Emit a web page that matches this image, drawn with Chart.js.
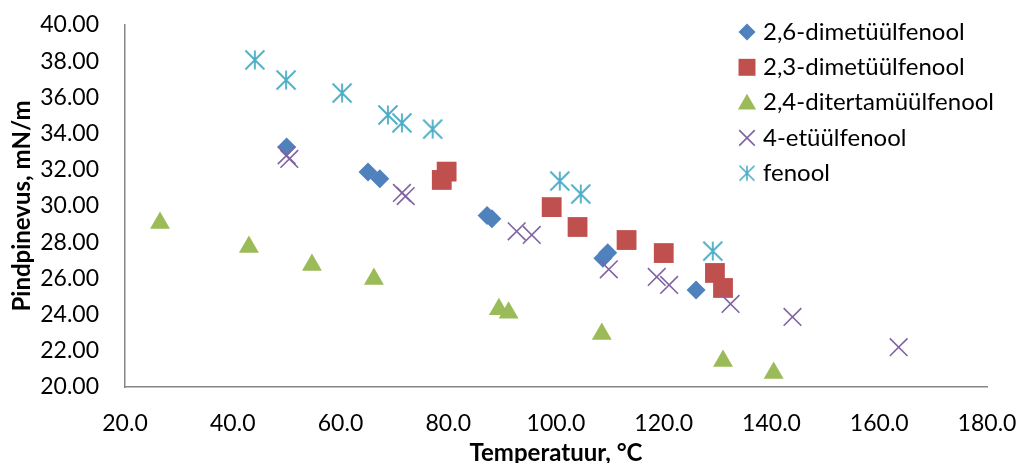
<!DOCTYPE html>
<html>
<head>
<meta charset="utf-8">
<script src="https://cdn.jsdelivr.net/npm/chart.js@4.4.0/dist/chart.umd.min.js"></script>
<style>
  html, body { margin: 0; padding: 0; background: #fff; }
  canvas { display: block; }
</style>
</head>
<body>
<canvas id="myChart" width="1018" height="463"></canvas>
<script>
const seriesNames = ['2,6-dimetüülfenool', '2,3-dimetüülfenool', '2,4-ditertamüülfenool', '4-etüülfenool', 'fenool'];

// temperatuur (°C) ja pindpinevus (mN/m) iga aine kohta
const dimetyyl26T = [50.0, 65.1, 67.3, 87.2, 88.1, 108.7, 109.6, 126.0];
const dimetyyl26S = [33.26, 31.88, 31.50, 29.48, 29.30, 27.12, 27.42, 25.36];

const dimetyyl23T = [78.8, 79.7, 99.2, 104.0, 113.1, 120.0, 129.5, 131.0];
const dimetyyl23S = [31.44, 31.90, 29.94, 28.84, 28.12, 27.40, 26.30, 25.47];

const ditertamyylT = [26.5, 43.0, 54.7, 66.2, 89.4, 91.2, 108.5, 131.0, 140.4];
const ditertamyylS = [29.06, 27.73, 26.74, 25.97, 24.30, 24.10, 22.93, 21.44, 20.77];

const etyyl4T = [50.0, 50.5, 71.4, 72.1, 92.7, 95.5, 109.8, 118.7, 121.0, 132.4, 143.9, 163.6];
const etyyl4S = [32.80, 32.60, 30.72, 30.55, 28.60, 28.40, 26.50, 26.08, 25.64, 24.59, 23.87, 22.20];

const fenoolT = [44.1, 49.9, 60.3, 68.8, 71.4, 77.1, 100.7, 104.6, 129.1];
const fenoolS = [38.07, 36.96, 36.24, 35.03, 34.59, 34.25, 31.38, 30.66, 27.51];

const xTicks = [20, 40, 60, 80, 100, 120, 140, 160, 180];
const yTicks = [20, 22, 24, 26, 28, 30, 32, 34, 36, 38, 40];

const colors = ['#4F81BD', '#C0504D', '#9BBB59', '#8064A2', '#4BACC6'];

// Excel-i tärn: X + püstjoon (Chart.js 'star' on 8 haaraga)
function makeStar(size, color, lw) {
  const c = document.createElement('canvas');
  c.width = size; c.height = size;
  const g = c.getContext('2d');
  g.strokeStyle = color;
  g.lineWidth = lw;
  const m = size / 2, h = size / 2 - 1.5;
  g.beginPath();
  g.moveTo(m, m - h); g.lineTo(m, m + h);
  g.moveTo(m - h, m - h); g.lineTo(m + h, m + h);
  g.moveTo(m + h, m - h); g.lineTo(m - h, m + h);
  g.stroke();
  return c;
}
const starBig = makeStar(22, colors[4], 1.8);
const starSmall = makeStar(18, colors[4], 1.6);

const toPoints = (xs, ys) => xs.map((x, i) => ({ x: x, y: ys[i] }));

const fontFamily = 'Lato, "Open Sans", sans-serif';

// legend joonistatakse graafiku sisse paremale üles
const legendStyles = [
  { style: 'rectRot', r: 8.5 },
  { style: 'rect', r: 12 },
  { style: 'triangle', r: 10.5 },
  { style: 'crossRot', r: 11 },
  { style: 'star', r: 9 },
];

function drawMarker(ctx, kind, x, y, r, color) {
  ctx.save();
  ctx.fillStyle = color;
  ctx.strokeStyle = color;
  ctx.beginPath();
  if (kind === 'rectRot') {
    ctx.moveTo(x - r, y); ctx.lineTo(x, y - r); ctx.lineTo(x + r, y); ctx.lineTo(x, y + r);
    ctx.closePath(); ctx.fill();
  } else if (kind === 'rect') {
    const s = r * Math.SQRT1_2;
    ctx.rect(x - s, y - s, 2 * s, 2 * s); ctx.fill();
  } else if (kind === 'triangle') {
    const h = r * 1.5, w = r * 0.866;
    ctx.moveTo(x, y - h / 2 - 1); ctx.lineTo(x + w, y + h / 2 - 1); ctx.lineTo(x - w, y + h / 2 - 1);
    ctx.closePath(); ctx.fill();
  } else if (kind === 'crossRot') {
    const d = r * Math.SQRT1_2;
    ctx.lineWidth = 1.6;
    ctx.moveTo(x - d, y - d); ctx.lineTo(x + d, y + d);
    ctx.moveTo(x + d, y - d); ctx.lineTo(x - d, y + d);
    ctx.stroke();
  } else if (kind === 'star') {
    ctx.drawImage(starSmall, x - starSmall.width / 2, y - starSmall.height / 2);
  }
  ctx.restore();
}

const insideLegend = {
  id: 'insideLegend',
  afterDraw(chart) {
    const ctx = chart.ctx;
    ctx.save();
    ctx.font = '24px ' + fontFamily;
    ctx.fillStyle = '#000';
    ctx.textBaseline = 'middle';
    ctx.textAlign = 'left';
    seriesNames.forEach((name, i) => {
      const y = 32 + i * 35.3;
      drawMarker(ctx, legendStyles[i].style, 747, y, legendStyles[i].r, colors[i]);
      ctx.fillText(name, 763, y);
    });
    ctx.restore();
  }
};

const ctx = document.getElementById('myChart').getContext('2d');

new Chart(ctx, {
  type: 'scatter',
  data: {
    datasets: [
      {
        label: seriesNames[0],
        data: toPoints(dimetyyl26T, dimetyyl26S),
        pointStyle: 'rectRot',
        pointRadius: 9.5,
        backgroundColor: colors[0],
        borderColor: colors[0],
        borderWidth: 0,
        order: 5,
      },
      {
        label: seriesNames[1],
        data: toPoints(dimetyyl23T, dimetyyl23S),
        pointStyle: 'rect',
        pointRadius: 14,
        backgroundColor: colors[1],
        borderColor: colors[1],
        borderWidth: 0,
        order: 4,
      },
      {
        label: seriesNames[2],
        data: toPoints(ditertamyylT, ditertamyylS),
        pointStyle: 'triangle',
        pointRadius: 11.5,
        backgroundColor: colors[2],
        borderColor: colors[2],
        borderWidth: 0,
        order: 3,
      },
      {
        label: seriesNames[3],
        data: toPoints(etyyl4T, etyyl4S),
        pointStyle: 'crossRot',
        pointRadius: 12.5,
        backgroundColor: colors[3],
        borderColor: colors[3],
        borderWidth: 1.6,
        order: 2,
      },
      {
        label: seriesNames[4],
        data: toPoints(fenoolT, fenoolS),
        pointStyle: starBig,
        pointRadius: 11,
        backgroundColor: colors[4],
        borderColor: colors[4],
        order: 1,
      },
    ],
  },
  options: {
    responsive: false,
    maintainAspectRatio: false,
    animation: false,
    layout: { autoPadding: false, padding: { top: 25, right: 31, left: 0, bottom: 0 } },
    plugins: {
      legend: { display: false },
      title: { display: false },
      tooltip: { enabled: false },
    },
    scales: {
      x: {
        type: 'linear',
        min: 20,
        max: 180,
        afterBuildTicks: (scale) => { scale.ticks = xTicks.map(v => ({ value: v })); },
        afterFit: (scale) => {
          scale.height = 76;
          scale.paddingLeft = 0;
          scale.paddingRight = 0;
        },
        grid: { display: false, drawTicks: false },
        border: { display: true, color: '#868686', width: 1.5 },
        ticks: {
          color: '#000',
          padding: 23,
          maxRotation: 0,
          font: { family: fontFamily, size: 23 },
          callback: (v) => Number(v).toFixed(1),
        },
        title: {
          display: true,
          text: 'Temperatuur, °C',
          color: '#000',
          font: { family: fontFamily, size: 24, weight: 'bold' },
          padding: { top: 0, bottom: -5 },
        },
      },
      y: {
        type: 'linear',
        min: 20,
        max: 40,
        afterBuildTicks: (scale) => { scale.ticks = yTicks.map(v => ({ value: v })); },
        afterFit: (scale) => {
          scale.width = 125;
          scale.paddingTop = 0;
          scale.paddingBottom = 0;
        },
        grid: { display: false, drawTicks: false },
        border: { display: true, color: '#868686', width: 1.5 },
        ticks: {
          color: '#000',
          padding: 26,
          font: { family: fontFamily, size: 23 },
          callback: (v) => Number(v).toFixed(2),
        },
        title: {
          display: true,
          text: 'Pindpinevus, mN/m',
          color: '#000',
          font: { family: fontFamily, size: 24, weight: 'bold' },
          padding: { top: 8, bottom: 0 },
        },
      },
    },
  },
  plugins: [insideLegend],
});
</script>
</body>
</html>
